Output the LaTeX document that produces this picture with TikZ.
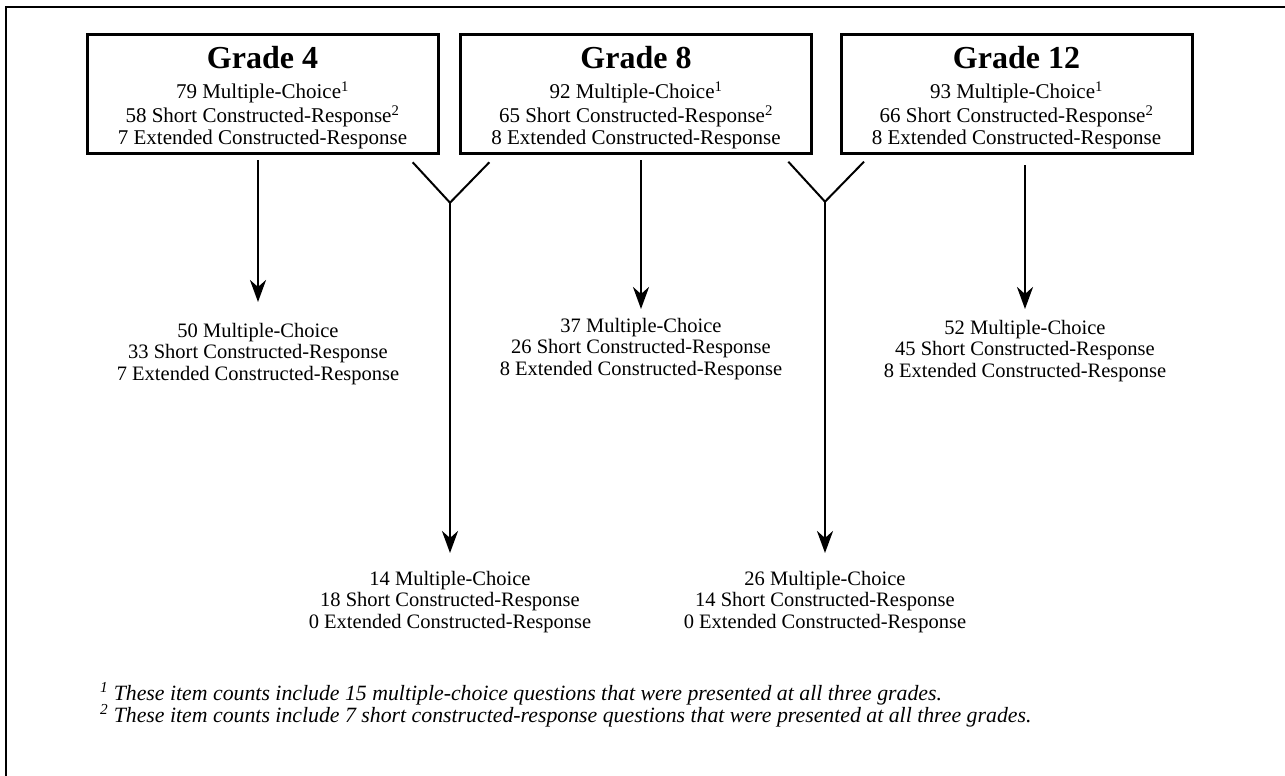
\documentclass[tikz,border=0pt]{standalone}
\usepackage{fontspec}
\setmainfont{Liberation Serif}
\usetikzlibrary{arrows.meta,calc}
\newcommand\mybody{\fontsize{20.5}{21.5}\selectfont}
\newcommand\myboxbody{\fontsize{21}{21.5}\selectfont}
\newcommand\myhead{\fontsize{32}{34}\selectfont\bfseries}
\newcommand\myfoot{\fontsize{21.8}{22}\selectfont\itshape}
\begin{document}
\begin{tikzpicture}[x=1pt,y=-1pt,
  gradebox/.style={draw,line width=3pt,minimum width=351pt,minimum height=118pt,inner sep=0pt},
  txt/.style={inner sep=0pt,anchor=base,font=\mybody},
  boxtxt/.style={inner sep=0pt,anchor=base,font=\myboxbody},
  head/.style={inner sep=0pt,anchor=base,font=\myhead},
  arr/.style={line width=2.8pt,-{Stealth[length=22pt,width=16pt,inset=7pt]}},
  arm/.style={line width=2pt},
  foot/.style={inner sep=0pt,anchor=base west,font=\myfoot},
  frame/.style={line width=2pt}]
\useasboundingbox (0,0) rectangle (1285,776);
% outer frame (only top and left visible)
\draw[frame] (6,776) -- (6,7) -- (1285,7);
% grade boxes
\node[gradebox] (g4) at (262.5,94) {};
\node[gradebox] (g8) at (636,94) {};
\node[gradebox] (g12) at (1016.5,94) {};
\node[head] (h4) at (262.5,69) {Grade 4};
\node[head] (h8) at (636,69) {Grade 8};
\node[head] (h12) at (1016.5,69) {Grade 12};
\node[boxtxt] (b4) at (262.5,99) {\begin{tabular}[t]{@{}c@{}}79 Multiple-Choice\textsuperscript{1}\\58 Short Constructed-Response\textsuperscript{2}\\7 Extended Constructed-Response\end{tabular}};
\node[boxtxt] (b8) at (636,99) {\begin{tabular}[t]{@{}c@{}}92 Multiple-Choice\textsuperscript{1}\\65 Short Constructed-Response\textsuperscript{2}\\8 Extended Constructed-Response\end{tabular}};
\node[boxtxt] (b12) at (1016.5,99) {\begin{tabular}[t]{@{}c@{}}93 Multiple-Choice\textsuperscript{1}\\66 Short Constructed-Response\textsuperscript{2}\\8 Extended Constructed-Response\end{tabular}};
% result labels
\node[txt] (r4) at (258,337) {\begin{tabular}[t]{@{}c@{}}50 Multiple-Choice\\33 Short Constructed-Response\\7 Extended Constructed-Response\end{tabular}};
\node[txt] (r8) at (641,332) {\begin{tabular}[t]{@{}c@{}}37 Multiple-Choice\\26 Short Constructed-Response\\8 Extended Constructed-Response\end{tabular}};
\node[txt] (r12) at (1025,334) {\begin{tabular}[t]{@{}c@{}}52 Multiple-Choice\\45 Short Constructed-Response\\8 Extended Constructed-Response\end{tabular}};
\node[txt] (r48) at (450,585) {\begin{tabular}[t]{@{}c@{}}14 Multiple-Choice\\18 Short Constructed-Response\\0 Extended Constructed-Response\end{tabular}};
\node[txt] (r812) at (825,585) {\begin{tabular}[t]{@{}c@{}}26 Multiple-Choice\\14 Short Constructed-Response\\0 Extended Constructed-Response\end{tabular}};
% straight arrows
\coordinate (s4) at (258,160);
\coordinate (e4) at (258,302);
\coordinate (s8) at (641,160);
\coordinate (e8) at (641,309);
\coordinate (s12) at (1025,165);
\coordinate (e12) at (1025,309);
\draw[arr] (s4) -- (e4);
\draw[arr] (s8) -- (e8);
\draw[arr] (s12) -- (e12);
% Y connectors
\coordinate (la) at (412.7,162.3);
\coordinate (ya) at (450,202.7);
\coordinate (ra) at (489.3,162.3);
\coordinate (ea) at (450,553);
\draw[arm] (la) -- (ya) -- (ra);
\draw[arr] (ya) -- (ea);
\coordinate (lb) at (788.3,161.7);
\coordinate (yb) at (825,201.7);
\coordinate (rb) at (864,161.7);
\coordinate (eb) at (825,553);
\draw[arm] (lb) -- (yb) -- (rb);
\draw[arr] (yb) -- (eb);
% footnotes
\node[foot] (f1) at (100,700) {\textsuperscript{1} These item counts include 15 multiple-choice questions that were presented at all three grades.};
\node[foot] (f2) at (100,722) {\textsuperscript{2} These item counts include 7 short constructed-response questions that were presented at all three grades.};
\end{tikzpicture}
\end{document}
